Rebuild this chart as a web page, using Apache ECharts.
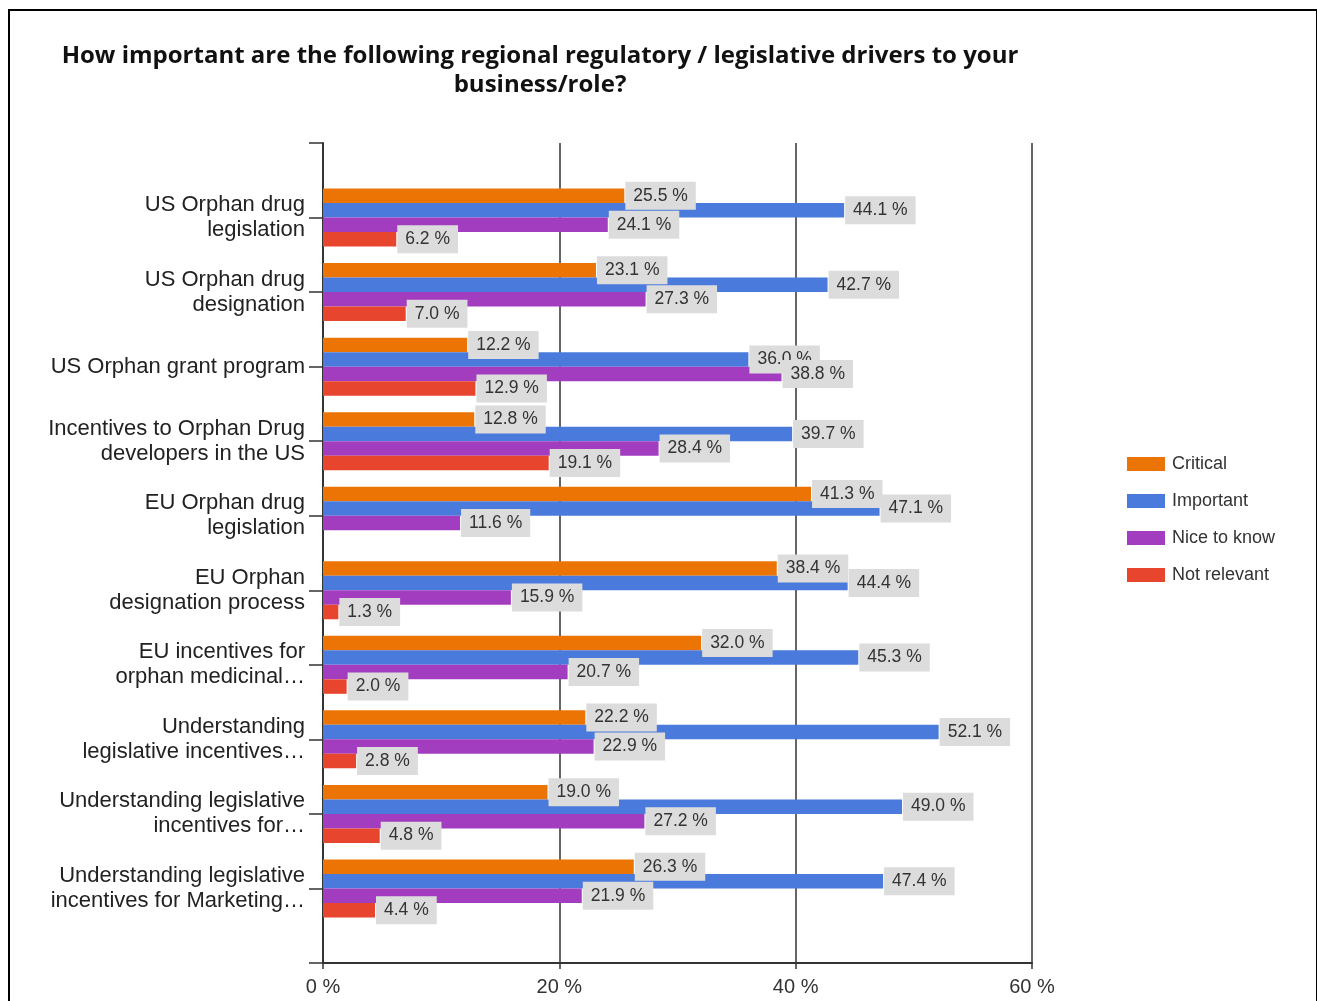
<!DOCTYPE html>
<html>
<head>
<meta charset="utf-8">
<script src="https://cdn.jsdelivr.net/npm/echarts@6/dist/echarts.min.js"></script>
<style>
html,body{margin:0;padding:0;background:#fff;}
#chart{position:absolute;left:0;top:0;width:1317px;height:1001px;}
#frame{position:absolute;left:8px;top:9px;width:1306px;height:1000px;border:2px solid #000;pointer-events:none;}
</style>
</head>
<body>
<div id="chart"></div>
<div id="frame"></div>
<script>
const categories = [
  'US Orphan drug\nlegislation',
  'US Orphan drug\ndesignation',
  'US Orphan grant program',
  'Incentives to Orphan Drug\ndevelopers in the US',
  'EU Orphan drug\nlegislation',
  'EU Orphan\ndesignation process',
  'EU incentives for\norphan medicinal…',
  'Understanding\nlegislative incentives…',
  'Understanding legislative\nincentives for…',
  'Understanding legislative\nincentives for Marketing…'
];
const seriesNames = ['Critical', 'Important', 'Nice to know', 'Not relevant'];
const critical    = [25.5, 23.1, 12.2, 12.8, 41.3, 38.4, 32.0, 22.2, 19.0, 26.3];
const important   = [44.1, 42.7, 36.0, 39.7, 47.1, 44.4, 45.3, 52.1, 49.0, 47.4];
const niceToKnow  = [24.1, 27.3, 38.8, 28.4, 11.6, 15.9, 20.7, 22.9, 27.2, 21.9];
const notRelevant = [6.2, 7.0, 12.9, 19.1, null, 1.3, 2.0, 2.8, 4.8, 4.4];
const xTicks = { min: 0, max: 60, interval: 20 };
const colors = ['#ec7404', '#4a7bdc', '#a33dbf', '#e8452e'];

// pad with an empty slot at each end (axis extends half a group beyond the data)
const yCats = [''].concat(categories, ['']);
const pad = arr => ['-'].concat(arr.map(v => v == null ? '-' : v), ['-']);
const values = [critical, important, niceToKnow, notRelevant];

const chart = echarts.init(document.getElementById('chart'));
const FONT = 'Liberation Sans';

chart.setOption({
  animation: false,
  color: colors,
  title: {
    text: 'How important are the following regional regulatory / legislative drivers to your\nbusiness/role?',
    left: 535,
    top: 37,
    textAlign: 'center',
    textStyle: { fontFamily: 'Open Sans', fontSize: 24, fontWeight: 'bold', color: '#111', lineHeight: 29 }
  },
  legend: {
    orient: 'vertical',
    left: 1127,
    top: 455,
    padding: 0,
    itemWidth: 38,
    itemHeight: 14,
    itemGap: 19,
    icon: 'rect',
    textStyle: { fontFamily: FONT, fontSize: 18, color: '#333', padding: [0, 0, 0, 2] },
    data: seriesNames
  },
  grid: { left: 323, right: 285, top: 143, bottom: 38, containLabel: false },
  xAxis: {
    type: 'value',
    min: xTicks.min, max: xTicks.max, interval: xTicks.interval,
    axisLine: { show: true, lineStyle: { color: '#333', width: 2 } },
    axisTick: { show: true, length: 6, lineStyle: { color: '#333', width: 1.5 } },
    splitLine: { show: true, lineStyle: { color: '#333', width: 1.5 } },
    axisLabel: { formatter: '{value} %', fontFamily: FONT, fontSize: 20, color: '#333', margin: 14 }
  },
  yAxis: {
    type: 'category',
    inverse: true,
    boundaryGap: false,
    data: yCats,
    axisLine: { show: true, lineStyle: { color: '#333', width: 2 } },
    axisTick: { show: true, length: 14, alignWithLabel: true, lineStyle: { color: '#333', width: 1.5 } },
    axisLabel: { fontFamily: FONT, fontSize: 22, color: '#222', margin: 18, lineHeight: 25, align: 'right', interval: 0 },
    splitLine: { show: false }
  },
  series: seriesNames.map((name, i) => ({
    name: name,
    type: 'bar',
    data: pad(values[i]),
    barWidth: 14.5,
    barGap: '0%',
    itemStyle: { color: colors[i] },
    label: {
      show: true,
      position: 'right',
      distance: 1,
      formatter: p => p.value.toFixed(1) + ' %',
      fontFamily: FONT,
      fontSize: 17.5,
      color: '#333',
      backgroundColor: '#dcdcdc',
      padding: [5, 8, 5, 8]
    }
  }))
});
</script>
</body>
</html>
